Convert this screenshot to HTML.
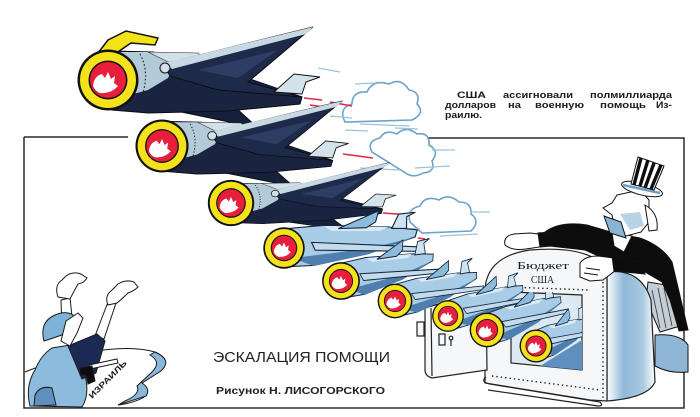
<!DOCTYPE html>
<html>
<head>
<meta charset="utf-8">
<style>
html,body{margin:0;padding:0;background:#fff;}
svg{display:block;}
.t{font-family:"Liberation Sans",sans-serif;font-weight:bold;font-size:9.5px;fill:#1a1a1a;}
</style>
</head>
<body>
<svg width="700" height="417" viewBox="0 0 700 417" xmlns="http://www.w3.org/2000/svg">
<defs>
  <linearGradient id="side" x1="0" y1="0" x2="1" y2="0">
    <stop offset="0" stop-color="#ffffff"/>
    <stop offset="0.35" stop-color="#8fb8d8"/>
    <stop offset="0.75" stop-color="#a9c9e0"/>
    <stop offset="1" stop-color="#ffffff"/>
  </linearGradient>
  <clipPath id="safeclip">
    <path d="M0,0 H511 V292 H582 V368 H511 V417 H0 Z"/>
  </clipPath>
  <!-- dark jet body -->
  <g id="bd">
    <path d="M35,24 L150,48 L128,28 L80,22 Z" fill="#17203a" stroke="#0a0d16"/>
    <path d="M4,-29 L45,-28 L110,-12 L194,17 L192,24 L120,31 L40,33 L4,30 Z" fill="#1a2440" stroke="#0a0d16"/>
    <path d="M8,-28 L46,-28 L70,-20 L60,-2 L40,10 L18,16 Z" fill="#b3cad8"/>
    <path d="M40,-28 L90,-27 L95,-22 L60,-18 Z" fill="#d3e0e8" stroke="#222" stroke-width="0.6"/>
    <path d="M32,-26 Q42,-8 34,16" fill="none" stroke="#222" stroke-width="1.2" stroke-dasharray="1.5 2.2"/>
    <path d="M55,-16 L205,-53 L140,2 L194,17 L110,10 L62,-4 Z" fill="#1e2a4a" stroke="#0a0d16"/>
    <path d="M56,-17 L205,-53 L198,-46 L64,-11 Z" fill="#c9d9e4"/>
    <path d="M90,-10 L170,-30 L130,-2 Z" fill="#34466e" opacity="0.7"/>
    <circle cx="57" cy="-12" r="5" fill="#d3e0e8" stroke="#111"/>
    <path d="M166,12 L186,-6 L212,-3 L198,2 L194,14 Z" fill="#d3e3ec" stroke="#111"/>
  </g>
  <!-- light jet body -->
  <g id="bl">
    <path d="M4,-28 L60,-27 L150,-15 L192,-6 L188,4 L120,20 L40,30 L4,28 Z" fill="#a9cde6" stroke="#14233c" stroke-width="1.6"/>
    <path d="M10,16 L120,14 L188,4 L120,22 L40,31 Z" fill="#4f7fae"/>
    <path d="M60,-26 L150,-15 L140,-10 L70,-18 Z" fill="#d8eaf5"/>
    <path d="M80,-20 L140,-40 L134,-24 L120,-17 Z" fill="#8dbbdc" stroke="#14233c" stroke-width="1.6"/>
    <path d="M40,-4 L198,20 L194,26 L44,8 Z" fill="#c2dcee" stroke="#14233c" stroke-width="1.6"/>
    <path d="M156,-12 L168,-32 L192,-32 L179,-27 L177,-10 Z" fill="#cde3f1" stroke="#14233c" stroke-width="1.6"/>
  </g>
  <!-- engine ring -->
  <g id="ring">
    <circle r="30.5" fill="#111"/>
    <circle r="28" fill="#f4e31b"/>
    <circle r="19.5" fill="#111"/>
    <circle r="18" fill="#e81f3c"/>
    <path d="M-15,6 Q-14,-4 -6,-6 L-3,-2 L0,-8 L3,-1 L7,-4 L6,3 L10,6 Q3,14 -8,13 Q-13,11 -15,6 Z" fill="#fff"/>
  </g>
</defs>

<!-- frame -->
<g stroke="#2a2a2a" stroke-width="1.5" fill="none">
  <path d="M24,137 H128"/>
  <path d="M416,138 H684 V408 H24 V137"/>
</g>

<!-- clouds and trails -->
<g fill="#fff" stroke="#6ea3c9" stroke-width="1.6">
  <path d="M345,122 Q338,108 352,104 Q352,91 367,92 Q373,79 389,84 Q401,77 409,90 Q421,92 417,104 Q426,113 412,120 Z"/>
  <path d="M372,152 Q366,141 380,138 Q385,129 397,134 Q406,125 417,134 Q430,132 429,145 Q440,151 432,161 Q436,172 423,173 Q413,179 404,172 Z"/>
  <path d="M410,222 Q406,209 420,206 Q425,195 439,200 Q449,193 459,202 Q472,202 471,214 Q481,221 471,231 L422,233 Z"/>
</g>
<g stroke="#9cc3dc" stroke-width="1.3">
  <line x1="330" y1="116" x2="352" y2="118"/><line x1="360" y1="124" x2="410" y2="126"/>
  <line x1="395" y1="128" x2="418" y2="129"/><line x1="355" y1="84" x2="375" y2="83"/>
  <line x1="360" y1="168" x2="400" y2="170"/><line x1="415" y1="168" x2="450" y2="166"/>
  <line x1="432" y1="150" x2="455" y2="150"/><line x1="398" y1="228" x2="420" y2="229"/>
  <line x1="440" y1="236" x2="478" y2="234"/><line x1="470" y1="212" x2="490" y2="212"/>
  <line x1="318" y1="68" x2="340" y2="72"/><line x1="345" y1="130" x2="368" y2="131"/>
</g>
<g stroke="#e3263d" stroke-width="1.6">
  <line x1="304" y1="98" x2="322" y2="100"/><line x1="330" y1="102" x2="352" y2="106"/>
  <line x1="343" y1="154" x2="373" y2="158"/><line x1="383" y1="213" x2="410" y2="215"/>
  <line x1="418" y1="238" x2="425" y2="239"/><line x1="310" y1="105" x2="330" y2="108"/>
</g>

<!-- Uncle Sam (behind safe) -->
<g stroke="#111" stroke-width="1">
  <path d="M655,335 Q680,333 688,345 L688,372 Q670,374 655,366 Z" fill="#8fb6d4"/>
  <path d="M648,282 L672,286 L680,326 L660,332 L646,300 Z" fill="#c3ced6"/>
  <g stroke="#333" stroke-width="0.8"><line x1="652" y1="290" x2="660" y2="328"/><line x1="658" y1="288" x2="666" y2="328"/><line x1="664" y1="288" x2="672" y2="326"/></g>
  <path d="M545,232 Q560,221 587,225 L614,233 L640,238 Q662,246 672,262 L680,296 L688,330 L679,331 L670,300 L662,282 L645,272 L612,262 L585,250 L550,246 Z" fill="#0d0d0d"/>
  <path d="M612,233 L632,236 L624,252 L614,246 Z" fill="#fff"/>
  <path d="M617,195 L640,190 L649,200 L649,222 L641,232 L626,236 L615,228 L612,215 L603,208 L612,203 Z" fill="#fff"/>
  <path d="M620,214 L640,212 L644,226 L630,230 Z" fill="#b8d2e6" stroke="none"/>
  <path d="M604,216 L621,222 L626,238 L610,233 Z" fill="#8ab4d4"/>
  <path d="M645,205 Q659,213 657,230 L649,231 Z" fill="#fff"/>
  <ellipse cx="642" cy="189" rx="21" ry="6" transform="rotate(14 642 189)" fill="#fff"/>
  <path d="M623,185 L660,193" stroke="#6e9fc6" stroke-width="2.5"/>
  <path d="M638,157 L664,166 L654,190 L631,184 Z" fill="#fff"/>
  <g stroke="#0d0d0d" stroke-width="3.4">
    <line x1="641" y1="158" x2="634" y2="185"/><line x1="648" y1="160" x2="640" y2="186"/>
    <line x1="654" y1="163" x2="645" y2="188"/><line x1="661" y1="165" x2="651" y2="189"/>
  </g>
</g>

<!-- safe -->
<g stroke="#222" stroke-width="1.2">
  <path d="M607,272 Q641,268 651,300 L655,382 Q648,398 607,401 Z" fill="url(#side)"/>
  <path d="M485,383 L485,288 Q488,256 530,250 Q580,246 600,262 Q607,268 607,278 L607,401 L590,400 Z" fill="#f5f7f8"/>
  <path d="M511,292 L582,295 L582,370 L511,363 Z" fill="#dce9f2"/>
  <path d="M540,366 L582,340 L582,370 Z" fill="#5f8fbf" stroke="none"/>
  <g stroke-dasharray="1.4 3" stroke-width="1.4" fill="none">
    <line x1="603" y1="282" x2="603" y2="398"/>
    <line x1="492" y1="376" x2="600" y2="390"/>
    <line x1="507" y1="287" x2="590" y2="290"/>
  </g>
  <path d="M425,308 L486,290 L487,370 L432,378 Q425,376 425,370 Z" fill="#f5f7f8"/>
  <line x1="431" y1="308" x2="432" y2="376"/>
  <rect x="439" y="334" width="6" height="11" fill="none"/>
  <circle cx="451" cy="338" r="1.8" fill="none"/>
  <line x1="451" y1="340" x2="451" y2="346"/>
  <rect x="417" y="322" width="7" height="14" fill="#f5f7f8"/>
  <path d="M486,377 Q480,382 490,384 L600,402 Q604,406 598,406 L488,390" fill="none"/>
</g>

<!-- jets -->
<g>
  <g transform="translate(108,80)">
    <use href="#bd"/>
    <path d="M158,38 L155,45 L131,43 L103,62 L88,66 L108,40 L126,31 Z" transform="translate(-108,-80)" fill="#f4e31b" stroke="#111" stroke-width="1.5"/>
    <use href="#ring"/>
  </g>
  <g transform="translate(162,146)">
    <use href="#bd" transform="scale(0.88,0.85)"/>
    <use href="#ring" transform="scale(0.87)"/>
  </g>
  <g transform="translate(231,203)">
    <use href="#bd" transform="rotate(-2) scale(0.78,0.66)"/>
    <use href="#ring" transform="scale(0.76)"/>
  </g>
  <g transform="translate(284,248)">
    <use href="#bl" transform="rotate(-6) scale(0.7,0.68)"/>
    <use href="#ring" transform="scale(0.68)"/>
  </g>
  <g transform="translate(341,281)">
    <use href="#bl" transform="rotate(-14) scale(0.5,0.62)"/>
    <use href="#ring" transform="scale(0.62)"/>
  </g>
  <g transform="translate(395,301)">
    <use href="#bl" transform="rotate(-17) scale(0.45,0.57)"/>
    <use href="#ring" transform="scale(0.57)"/>
  </g>
  <g transform="translate(448,316)">
    <use href="#bl" transform="rotate(-20) scale(0.42,0.52)"/>
    <use href="#ring" transform="scale(0.52)"/>
  </g>
  <g clip-path="url(#safeclip)">
    <g transform="translate(487,330)">
      <use href="#bl" transform="rotate(-22) scale(0.42,0.55)"/>
    </g>
    <g transform="translate(536,346)">
      <use href="#bl" transform="rotate(-24) scale(0.32,0.52)"/>
    </g>
  </g>
  <use href="#ring" transform="translate(487,330) scale(0.57)"/>
  <use href="#ring" transform="translate(536,346) scale(0.54)"/>
</g>

<!-- Sam's hands over safe -->
<g stroke="#111" stroke-width="1" fill="#fff">
  <path d="M505,245 Q503,236 514,234 L530,233 L546,235 L546,246 L526,249 Q512,251 505,245 Z"/>
  <path d="M538,233 L550,232 L551,246 L540,247 Z" fill="#0d0d0d"/>
  <path d="M580,263 Q585,256 598,256 L614,258 L616,270 L603,280 L590,281 L580,277 Z"/>
  <path d="M586,268 L600,270 M584,273 L598,275" fill="none"/>
  <path d="M612,256 L640,262 L645,274 L614,271 Z" fill="#0d0d0d"/>
</g>
<text x="517" y="269" font-family="'Liberation Serif',serif" font-size="10.5" fill="#1a1a1a" textLength="52" lengthAdjust="spacingAndGlyphs">Бюджет</text>
<text x="531" y="283" font-family="'Liberation Serif',serif" font-size="10" fill="#1a1a1a" textLength="23" lengthAdjust="spacingAndGlyphs">США</text>

<!-- Israel figure -->
<g stroke="#1a1a1a" stroke-width="1">
  <path d="M25,372 Q60,358 90,352 Q130,345 155,352 Q172,360 160,370 Q148,378 142,383 Q150,389 146,396 Q135,403 118,405" fill="none"/>
  <path d="M155,352 Q173,360 161,371 L142,383 Q151,389 146,396 L118,405 L125,401 Q141,394 137,386 L152,372 Q162,362 150,355 Z" fill="#8ab8dc"/>
  <path d="M61,300 L70,298 L73,326 L62,329 Z" fill="#fff"/>
  <path d="M108,302 L117,300 L104,339 L95,336 Z" fill="#fff"/>
  <path d="M58,297 Q54,285 62,280 L66,276 Q73,271 81,274 L87,278 Q84,283 78,284 Q74,291 70,299 Z" fill="#fff"/>
  <path d="M108,305 Q104,296 112,290 L118,284 Q126,279 134,282 L138,287 Q134,291 128,293 Q122,299 117,303 Z" fill="#fff"/>
  <path d="M30,406 Q25,386 35,370 Q41,355 52,348 L70,345 L80,352 L86,380 Q89,396 82,407 Z" fill="#8cbbde"/>
  <path d="M68,346 L97,334 L105,341 L96,373 L82,379 Z" fill="#1b2a55"/>
  <path d="M89,365 L117,359 L118,363 L90,369 Z" fill="#fff"/>
  <path d="M80,368 L92,366 L95,381 L88,384 L86,375 L80,375 Z" fill="#0d0d0d"/>
  <path d="M44,341 Q39,322 55,315 Q68,309 77,318 L72,331 Q60,336 44,341 Z" fill="#7fb2d9"/>
  <path d="M66,321 L78,313 L83,318 L77,333 L70,346 L61,341 Z" fill="#fff"/>
  <path d="M35,395 Q40,385 52,388 L56,405 L34,406 Z" fill="#5d8fbf"/>
</g>
<text x="0" y="0" transform="translate(92,399) rotate(-45)" font-family="'Liberation Sans',sans-serif" font-weight="bold" font-size="8" fill="#1a1a1a" textLength="50" lengthAdjust="spacingAndGlyphs">ИЗРАИЛЬ</text>

<!-- top text -->
<g class="t">
  <text x="457" y="98" textLength="29" lengthAdjust="spacingAndGlyphs">США</text>
  <text x="503" y="98" textLength="70" lengthAdjust="spacingAndGlyphs">ассигновали</text>
  <text x="590" y="98" textLength="82" lengthAdjust="spacingAndGlyphs">полмиллиарда</text>
  <text x="445" y="108" textLength="51" lengthAdjust="spacingAndGlyphs">долларов</text>
  <text x="508" y="108" textLength="13" lengthAdjust="spacingAndGlyphs">на</text>
  <text x="535" y="108" textLength="49" lengthAdjust="spacingAndGlyphs">военную</text>
  <text x="600" y="108" textLength="46" lengthAdjust="spacingAndGlyphs">помощь</text>
  <text x="656" y="108" textLength="16" lengthAdjust="spacingAndGlyphs">Из-</text>
  <text x="445" y="118" textLength="37" lengthAdjust="spacingAndGlyphs">раилю.</text>
</g>

<!-- captions -->
<text x="213" y="362" font-family="'Liberation Sans',sans-serif" font-size="14.5" fill="#222" textLength="177" lengthAdjust="spacingAndGlyphs">ЭСКАЛАЦИЯ ПОМОЩИ</text>
<text x="216" y="394" font-family="'Liberation Sans',sans-serif" font-weight="bold" font-size="10" fill="#222" textLength="169" lengthAdjust="spacingAndGlyphs">Рисунок Н. ЛИСОГОРСКОГО</text>
</svg>
</body>
</html>
